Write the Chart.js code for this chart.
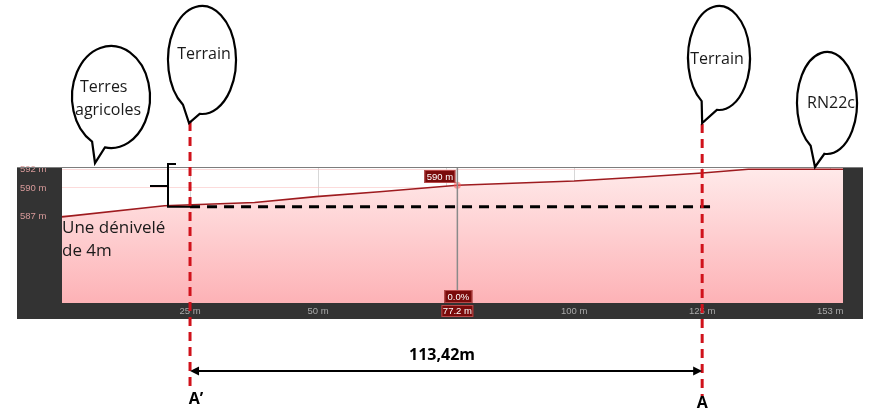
<!DOCTYPE html>
<html>
<head>
<meta charset="utf-8">
<script src="https://cdn.jsdelivr.net/npm/chart.js@4.4.1/dist/chart.umd.min.js"></script>
<style>
html, body { margin: 0; padding: 0; background: #fff; overflow: hidden; }
</style>
</head>
<body>
<canvas id="chart" width="879" height="409"></canvas>
<script>
// profil en long (distance en m, altitude en m)
const distances = [0, 20, 37.6, 49.6, 62, 77.2, 100, 114, 125, 134, 152.5];
const elevations = [586.9, 588.1, 588.45, 589.07, 589.6, 590.3, 590.75, 591.2, 591.6, 592.0, 592.0];
const xTickValues = [25, 50, 75, 100, 125, 150];
const xTickLabels = ['25 m', '50 m', '', '100 m', '125 m', '153 m'];
const yTickValues = [587, 590, 592];
const yTickLabels = ['587 m', '590 m', '592 m'];
const cursorDist = 77.2;
const cursorLabels = ['590 m', '0.0%', '77.2 m'];
const sectionEnds = [25, 125];
const sectionNames = ['A\u2019', 'A'];
const sectionLength = '113,42m';
const bubbleTexts = [['Terres', 'agricoles'], ['Terrain'], ['Terrain'], ['RN22c']];

const ctx = document.querySelector('#chart').getContext('2d');

function bubble(c, cx, cy, rx, ry, a1, a2, tx, ty) {
    c.beginPath();
    c.ellipse(cx, cy, rx, ry, 0, a1 * Math.PI / 180, a2 * Math.PI / 180, false);
    c.lineTo(tx, ty);
    c.closePath();
    c.fillStyle = '#fff';
    c.fill();
    c.lineWidth = 2.2;
    c.strokeStyle = '#000';
    c.stroke();
}

function labelBox(c, text, x, y, w, h) {
    c.fillStyle = '#7a0b0b';
    c.fillRect(x, y, w, h);
    c.strokeStyle = '#b84a4a';
    c.lineWidth = 1;
    c.strokeRect(x + 0.5, y + 0.5, w - 1, h - 1);
    c.fillStyle = '#fff';
    c.font = '9.5px "Liberation Sans"';
    c.textAlign = 'center';
    c.textBaseline = 'middle';
    c.fillText(text, x + w / 2, y + h / 2 + 0.5);
}

const frame = {
    id: 'frame',
    beforeDraw: (chart) => {
        const c = chart.ctx;
        const {top, left, right, bottom} = chart.chartArea;
        c.save();
        c.fillStyle = '#fff';
        c.fillRect(0, 0, chart.width, chart.height);
        c.fillStyle = '#333333';
        c.fillRect(17, top - 1, right + 20 - 17, bottom + 16 - top + 1);
        c.fillStyle = '#fff';
        c.fillRect(left, top, right - left, bottom - top);
        c.restore();
    },
    afterDatasetsDraw: (chart) => {
        const c = chart.ctx;
        const {top, bottom} = chart.chartArea;
        const x = chart.scales.x.getPixelForValue(cursorDist);
        c.save();
        c.strokeStyle = '#8a8a8a';
        c.lineWidth = 1.5;
        c.beginPath();
        c.moveTo(x, top);
        c.lineTo(x, bottom);
        c.stroke();
        c.strokeStyle = '#7d7d7d';
        c.lineWidth = 1;
        c.beginPath();
        c.moveTo(17, top - 0.5);
        c.lineTo(chart.chartArea.right + 20, top - 0.5);
        c.stroke();
        c.restore();
    },
    afterDraw: (chart) => {
        const c = chart.ctx;
        const xs = chart.scales.x;
        const ys = chart.scales.y;
        const {top, bottom} = chart.chartArea;
        const cx = xs.getPixelForValue(cursorDist);
        c.save();
        // boites du curseur
        labelBox(c, cursorLabels[0], cx - 33, top + 2, 31, 13);
        labelBox(c, cursorLabels[1], cx - 13, bottom - 13, 28, 13);
        labelBox(c, cursorLabels[2], cx - 16, bottom + 2, 32, 12);

        // ligne pointillee noire (niveau de A')
        const yRef = ys.getPixelForValue(588);
        const xA1 = xs.getPixelForValue(sectionEnds[0]);
        const xA2 = xs.getPixelForValue(sectionEnds[1]);
        c.strokeStyle = '#000';
        c.lineWidth = 3;
        c.setLineDash([10, 7]);
        c.beginPath();
        c.moveTo(xA1, yRef);
        c.lineTo(xA2 + 9, yRef);
        c.stroke();
        c.setLineDash([]);

        // accolade
        c.lineWidth = 2;
        c.beginPath();
        c.moveTo(176, 164);
        c.lineTo(168, 164);
        c.lineTo(168, yRef);
        c.lineTo(xA1, yRef);
        c.moveTo(150, 186);
        c.lineTo(168, 186);
        c.stroke();

        // lignes rouges A' et A
        c.strokeStyle = '#d0121b';
        c.lineWidth = 3;
        c.setLineDash([9, 6]);
        c.beginPath();
        c.moveTo(xA1, 122);
        c.lineTo(xA1, 386);
        c.moveTo(xA2, 124);
        c.lineTo(xA2, 396);
        c.stroke();
        c.setLineDash([]);

        // bulles
        bubble(c, 111, 97, 39, 51, 119, 99 + 360, 95, 163);
        bubble(c, 202, 60, 34, 54, 124, 94 + 360, xA1 - 1, 123);
        bubble(c, 719, 58, 31, 52, 124, 94 + 360, xA2, 123);
        bubble(c, 827, 103, 30, 51, 123, 95 + 360, 815, 167);

        c.fillStyle = '#1a1a1a';
        c.font = '16px "Open Sans"';
        c.textBaseline = 'middle';
        c.textAlign = 'left';
        c.fillText(bubbleTexts[0][0], 80, 87);
        c.fillText(bubbleTexts[0][1], 75, 110);
        c.textAlign = 'center';
        c.fillText(bubbleTexts[1][0], 204, 54);
        c.fillText(bubbleTexts[2][0], 717, 59);
        c.fillText(bubbleTexts[3][0], 831, 103);

        c.textAlign = 'left';
        c.font = '17px "Open Sans"';
        c.fillText('Une dénivelé', 62, 228);
        c.fillText('de 4m', 62, 251);

        // fleche double et cotes
        const ya = 371;
        c.strokeStyle = '#000';
        c.fillStyle = '#000';
        c.lineWidth = 2;
        c.beginPath();
        c.moveTo(xA1 + 6, ya);
        c.lineTo(xA2 - 6, ya);
        c.stroke();
        c.beginPath();
        c.moveTo(xA1, ya);
        c.lineTo(xA1 + 9, ya - 4.5);
        c.lineTo(xA1 + 9, ya + 4.5);
        c.closePath();
        c.moveTo(xA2, ya);
        c.lineTo(xA2 - 9, ya - 4.5);
        c.lineTo(xA2 - 9, ya + 4.5);
        c.closePath();
        c.fill();

        c.font = 'bold 16px "Open Sans"';
        c.textAlign = 'center';
        c.fillText(sectionLength, 442, 355);
        c.fillText(sectionNames[0], xA1 + 6, 399);
        c.fillText(sectionNames[1], xA2, 403);
        c.restore();
    }
};

new Chart(ctx, {
    type: 'line',
    data: {
        datasets: [{
            label: 'Altitude',
            data: distances.map((d, i) => ({x: d, y: elevations[i]})),
            borderColor: '#9e1b1f',
            borderWidth: 1.6,
            tension: 0,
            fill: 'start',
            backgroundColor: (context) => {
                const area = context.chart.chartArea;
                if (!area) return '#fdd';
                const g = context.chart.ctx.createLinearGradient(0, area.top, 0, area.bottom);
                g.addColorStop(0, '#ffeaea');
                g.addColorStop(1, '#fdb2b6');
                return g;
            },
            pointRadius: (context) => distances[context.dataIndex] === cursorDist ? 3.5 : 0,
            pointBackgroundColor: 'rgba(255,90,90,0.55)',
            pointBorderWidth: 0
        }]
    },
    plugins: [frame],
    options: {
        responsive: false,
        animation: false,
        events: [],
        layout: {
            padding: {left: 20, right: 36, top: 168, bottom: 90}
        },
        scales: {
            x: {
                type: 'linear',
                min: 0,
                max: 152.5,
                z: 1,
                afterFit: (scale) => { scale.height = 16; },
                afterBuildTicks: (scale) => { scale.ticks = xTickValues.map(v => ({value: v})); },
                border: {display: false},
                grid: {color: 'rgba(140,140,140,0.35)', lineWidth: 1, drawTicks: false},
                ticks: {
                    padding: 3,
                    maxRotation: 0,
                    autoSkip: false,
                    color: '#a9a9a9',
                    font: {family: 'Liberation Sans', size: 9.5},
                    callback: (val) => xTickLabels[xTickValues.indexOf(val)]
                }
            },
            y: {
                type: 'linear',
                min: 577.68,
                max: 592.14,
                z: 1,
                afterFit: (scale) => { scale.width = 42; },
                afterBuildTicks: (scale) => { scale.ticks = yTickValues.map(v => ({value: v})); },
                border: {display: false},
                grid: {color: 'rgba(250,190,190,0.55)', lineWidth: 1, drawTicks: false},
                ticks: {
                    crossAlign: 'far',
                    padding: 4,
                    autoSkip: false,
                    color: '#d79a9a',
                    font: {family: 'Liberation Sans', size: 9.5},
                    callback: (val) => yTickLabels[yTickValues.indexOf(val)]
                }
            }
        },
        plugins: {
            legend: {display: false},
            tooltip: {enabled: false}
        }
    }
});
</script>
</body>
</html>
